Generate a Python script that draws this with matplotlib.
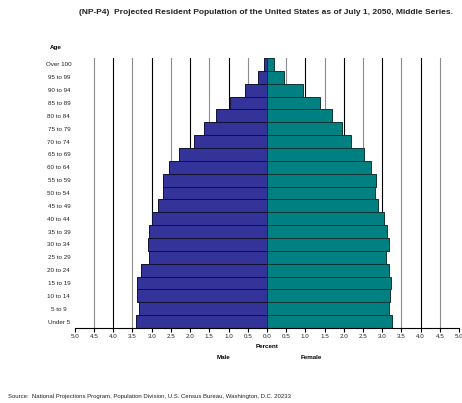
import numpy as np
import matplotlib
matplotlib.use("Agg")
import matplotlib.pyplot as plt

plt.rcParams['font.family'] = ['Liberation Sans', 'DejaVu Sans']

# age groups, bottom to top
age_groups = ["Under 5", "5 to 9", "10 to 14", "15 to 19", "20 to 24", "25 to 29",
              "30 to 34", "35 to 39", "40 to 44", "45 to 49", "50 to 54", "55 to 59",
              "60 to 64", "65 to 69", "70 to 74", "75 to 79", "80 to 84", "85 to 89",
              "90 to 94", "95 to 99", "Over 100"]

# percent of total population
male = [3.41, 3.34, 3.37, 3.39, 3.28, 3.08, 3.10, 3.08, 2.99, 2.83, 2.71, 2.70,
        2.54, 2.29, 1.91, 1.63, 1.32, 0.96, 0.56, 0.24, 0.07]
female = [3.25, 3.19, 3.21, 3.23, 3.17, 3.09, 3.17, 3.12, 3.04, 2.89, 2.81, 2.85,
          2.71, 2.53, 2.18, 1.95, 1.69, 1.38, 0.93, 0.45, 0.19]

x_ticks = np.arange(-5.0, 5.01, 0.5)

fig = plt.figure(figsize=(4.62, 4.03), dpi=100)
ax = fig.add_axes([0.162, 0.186, 0.8315, 0.670])

# grid lines, darker at whole numbers (none at 0 or the ends)
for t in x_ticks:
    if abs(t) < 1e-9 or abs(abs(t) - 5) < 1e-9:
        continue
    col = '#000000' if abs(t - round(t)) < 1e-9 else '#8c8c8c'
    ax.axvline(t, color=col, lw=0.8, zorder=0)

y = np.arange(len(age_groups))
ax.barh(y, [-m for m in male], height=1.0, color='#333399', edgecolor='#111133', lw=0.7, zorder=2)
ax.barh(y, female, height=1.0, color='#008080', edgecolor='#113333', lw=0.7, zorder=2)

ax.set_xlim(-5, 5)
ax.set_ylim(-0.5, len(age_groups) - 0.5)
ax.set_xticks(x_ticks)
ax.set_xticklabels(["%.1f" % abs(t) for t in x_ticks], fontsize=4.5, color='#222222')
ax.set_yticks(y)
ax.set_yticklabels(age_groups, fontsize=4.5, ha='center', color='#222222')
ax.tick_params(axis='y', length=0, pad=11.5)
ax.tick_params(axis='x', length=3, width=0.8, pad=1.5)

for s in ['top', 'right', 'left']:
    ax.spines[s].set_visible(False)
ax.spines['bottom'].set_linewidth(0.8)

fig.text(0.575, 0.968, "(NP-P4)  Projected Resident Population of the United States as of July 1, 2050, Middle Series.",
         ha='center', va='center', fontsize=6.0, fontweight='bold', color='#222222')
fig.text(0.121, 0.883, "Age", ha='center', va='center', fontsize=4.5, fontweight='bold')
fig.text(0.578, 0.139, "Percent", ha='center', va='center', fontsize=4.5, fontweight='bold')
fig.text(0.483, 0.112, "Male", ha='center', va='center', fontsize=4.5, fontweight='bold')
fig.text(0.673, 0.112, "Female", ha='center', va='center', fontsize=4.5, fontweight='bold')
fig.text(0.017, 0.017, "Source:  National Projections Program, Population Division, U.S. Census Bureau, Washington, D.C. 20233",
         ha='left', va='center', fontsize=4.3, color='#222222')

fig.savefig("out.png", dpi=100)
